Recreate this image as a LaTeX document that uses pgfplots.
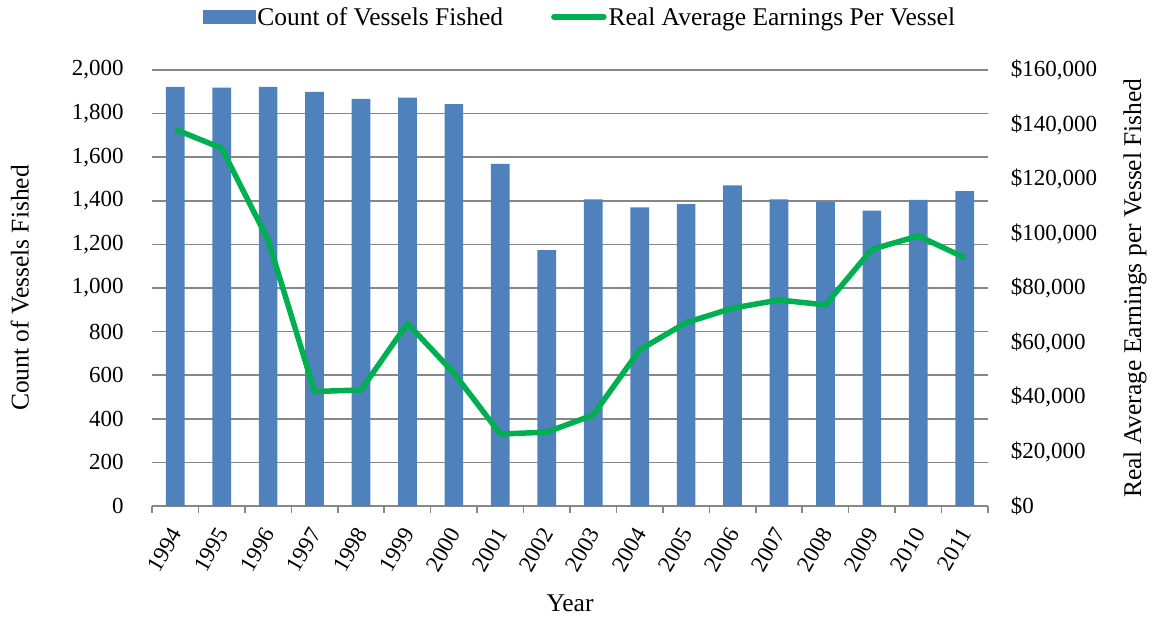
\documentclass[border=0pt]{standalone}
\usepackage{pgfplots}
\pgfplotsset{compat=1.18}
\usepackage{fontspec}
\setmainfont{Liberation Serif}
\definecolor{barblue}{HTML}{4F81BD}
\definecolor{linegreen}{HTML}{00B050}
\definecolor{gridgray}{HTML}{878787}
\newcommand{\tickfont}{\fontsize{23}{27}\selectfont}
\newcommand{\labfont}{\fontsize{25.5}{30}\selectfont}
\begin{document}
\begin{tikzpicture}
\useasboundingbox (-152pt,-112pt) rectangle (1001pt,506pt);
\begin{axis}[
  at={(0pt,0pt)}, anchor=south west,
  scale only axis, width=836pt, height=436pt,
  xmin=-0.5, xmax=17.5, ymin=0, ymax=2000,
  axis x line*=bottom, axis y line*=left,
  y axis line style={draw=none},
  x axis line style={draw=gridgray, line width=1.5pt},
  ytick={0,200,...,2000},
  yticklabels={0,200,400,600,800,{1,000},{1,200},{1,400},{1,600},{1,800},{2,000}},
  ytick style={draw=none},
  ymajorgrids, major grid style={draw=gridgray, line width=1.5pt},
  xtick={0,...,17},
  xticklabels={1994,1995,1996,1997,1998,1999,2000,2001,2002,2003,2004,2005,2006,2007,2008,2009,2010,2011},
  major x tick style={draw=none},
  minor xtick={-0.5,0.5,...,17.5},
  minor x tick style={draw=gridgray, line width=1.5pt},
  minor tick length=7pt, tick align=outside,
  yticklabel style={font=\tickfont, inner sep=0pt, xshift=-24pt},
  xticklabel style={font=\tickfont, anchor=east, inner sep=0pt, xshift=1pt, yshift=-19pt, rotate=60},
  xlabel={Year}, ylabel={Count of Vessels Fished},
  xlabel style={font=\labfont, at={(axis description cs:0.5,-0.2225)}, anchor=center},
  ylabel style={font=\labfont, at={(axis description cs:-0.158,0.5)}, anchor=center},
]
\addplot[ybar, bar width=18.7pt, fill=barblue, draw=none] coordinates {
(0,1923) (1,1919) (2,1923) (3,1900) (4,1867) (5,1873) (6,1843) (7,1569) (8,1174)
(9,1407) (10,1370) (11,1385) (12,1471) (13,1407) (14,1394) (15,1355) (16,1404) (17,1444)};
\end{axis}
\begin{axis}[
  at={(0pt,0pt)}, anchor=south west,
  scale only axis, width=836pt, height=436pt,
  xmin=-0.5, xmax=17.5, ymin=0, ymax=160000,
  axis x line=none, axis y line*=right,
  y axis line style={draw=none},
  scaled y ticks=false,
  ytick={0,20000,...,160000},
  yticklabels={\$0,{\$20,000},{\$40,000},{\$60,000},{\$80,000},{\$100,000},{\$120,000},{\$140,000},{\$160,000}},
  ytick style={draw=none},
  yticklabel style={font=\tickfont, inner sep=0pt, xshift=22.7pt},
  ylabel={Real Average Earnings per Vessel Fished},
  ylabel style={font=\labfont, at={(axis description cs:1.1758,0.5)}, anchor=center},
  legend columns=2,
  legend style={draw=none, fill=none, font=\labfont, at={(axis description cs:0.512,1.1216)}, anchor=center,
    /tikz/every even column/.append style={column sep=46pt}},
]
\addlegendimage{legend image code/.code={\fill[barblue] (0pt,-6.5pt) rectangle (52pt,6.5pt);}}
\addlegendentry{Count of Vessels Fished}
\addplot[linegreen, line width=5.5pt, line join=round, mark=none,
  legend image code/.code={\draw[linegreen, line width=5.5pt, line cap=round] (0pt,0pt) -- (50pt,0pt);}] coordinates {
(0,138200) (1,131300) (2,97600) (3,42000) (4,42600) (5,67000) (6,48800) (7,26400) (8,27100)
(9,33400) (10,57300) (11,67300) (12,72600) (13,75600) (14,73800) (15,94200) (16,99100) (17,91100)};
\addlegendentry{Real Average Earnings Per Vessel}
\end{axis}
\end{tikzpicture}
\end{document}
